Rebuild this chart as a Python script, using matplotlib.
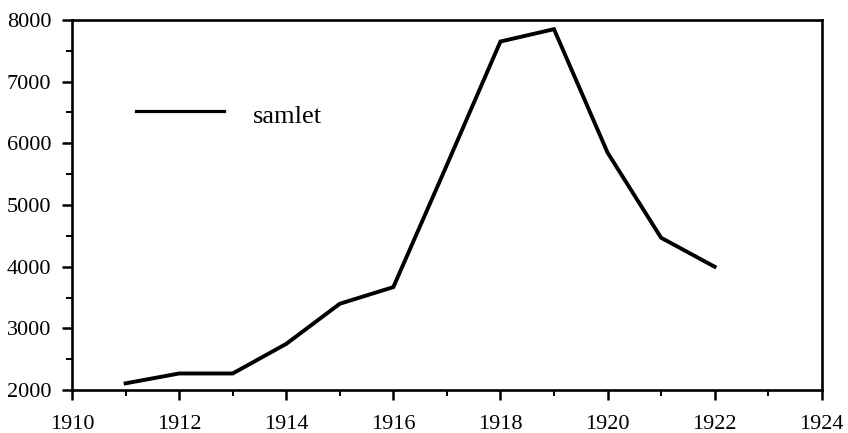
import matplotlib
matplotlib.use("Agg")
import matplotlib.pyplot as plt
from matplotlib.ticker import MultipleLocator

plt.rcParams['font.family'] = ['Liberation Serif', 'DejaVu Serif']

# data
years = [1911, 1912, 1913, 1914, 1915, 1916, 1917, 1918, 1919, 1920, 1921, 1922]
samlet = [2110, 2270, 2270, 2750, 3400, 3670, 5650, 7650, 7850, 5850, 4470, 4000]

fig = plt.figure(figsize=(8.48, 4.33), dpi=100)
ax = fig.add_axes([0.085, 0.099, 0.884, 0.855])

ax.plot(years, samlet, color='black', linewidth=2.8, solid_joinstyle='miter')

ax.set_xlim(1910, 1924)
ax.set_ylim(2000, 8000)
ax.xaxis.set_major_locator(MultipleLocator(2))
ax.xaxis.set_minor_locator(MultipleLocator(1))
ax.yaxis.set_major_locator(MultipleLocator(1000))
ax.yaxis.set_minor_locator(MultipleLocator(500))

for side in ax.spines.values():
    side.set_linewidth(1.9)

ax.tick_params(which='major', direction='out', length=7, width=1.8,
               labelsize=16)
ax.tick_params(which='minor', direction='out', length=4, width=1.4)
ax.tick_params(axis='y', which='major', pad=8)
ax.tick_params(axis='x', which='major', pad=11)

# hand-drawn style legend inside the plot
ax.plot([1911.19, 1912.84], [6520, 6520], color='black', linewidth=2.3)
ax.text(1913.38, 6330, 'samlet', fontsize=19, va='baseline', ha='left')

fig.savefig('out.png', dpi=100)
